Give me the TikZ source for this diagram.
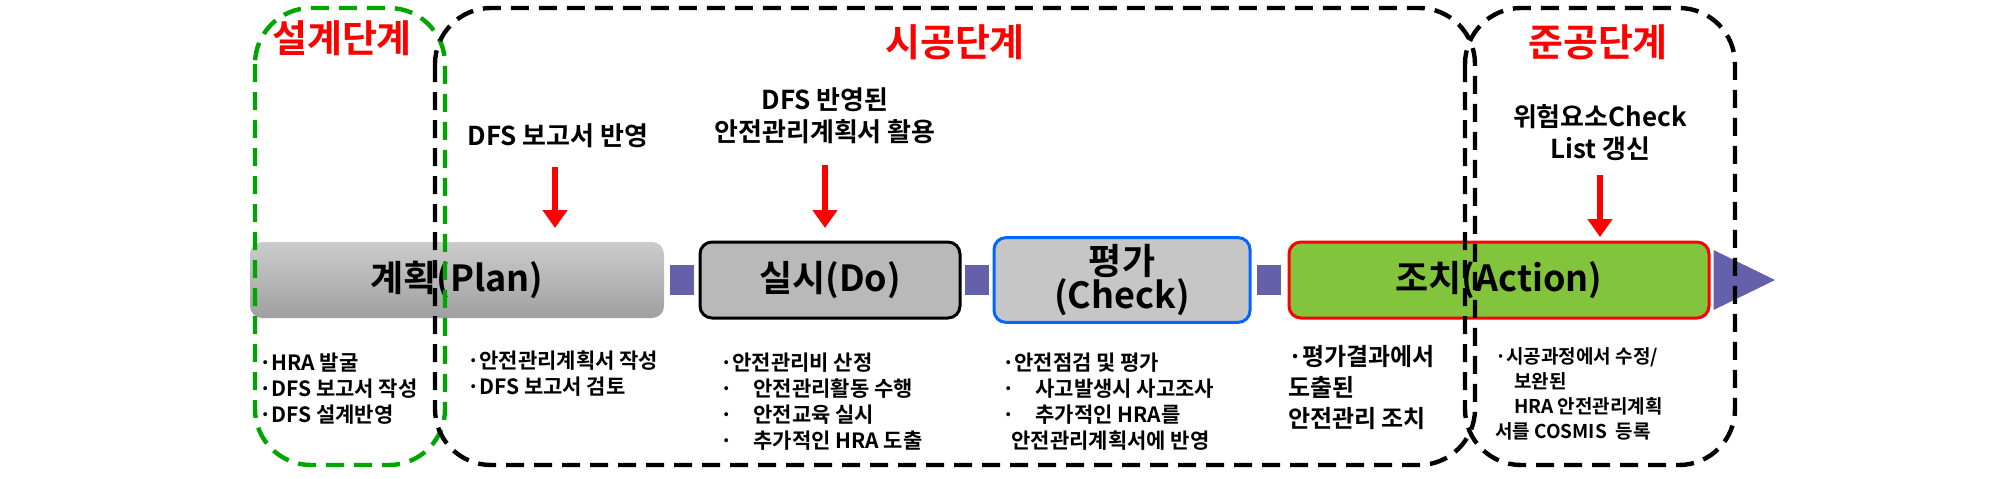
\documentclass[tikz,border=0pt]{standalone}
\usepackage{fontspec}
\usetikzlibrary{arrows.meta}
\setmainfont{Noto Sans CJK KR}
\newfontfamily\kb{Noto Sans CJK KR Bold}
\definecolor{actgreen}{RGB}{130,196,60}
\definecolor{conncol}{RGB}{100,96,170}
\begin{document}
\begin{tikzpicture}[x=0.5pt,y=-0.5pt,
  stage/.style={line width=2.2pt,dash pattern=on 9pt off 5pt,rounded corners=28pt},
  title/.style={text=red,font=\kb\fontsize{19}{21}\selectfont},
  lbl/.style={font=\kb\fontsize{13}{16}\selectfont,align=center},
  note/.style={font=\kb\fontsize{10.5}{13}\selectfont,align=left,anchor=north west},
  phase/.style={rounded corners=6pt,line width=1.5pt,minimum height=38pt,font=\kb\fontsize{18}{18}\selectfont,align=center},
  conn/.style={fill=conncol,draw=none,minimum width=12pt,minimum height=15pt,inner sep=0pt},
  redarrow/.style={draw=red,line width=3pt,-{Triangle[width=12pt,length=9pt]}}]
\useasboundingbox (0,0) rectangle (2008,478);
% phase boxes
\node[phase,draw=none,top color=gray!40,bottom color=gray!75,minimum width=207pt] (plan) at (457,280) {계획(Plan)};
\node[phase,draw=black,fill=gray!55,minimum width=130pt] (do) at (830,280) {실시(Do)};
\node[phase,draw=blue!60!cyan,fill=gray!45,minimum width=128pt,font=\kb\fontsize{18}{17}\selectfont] (check) at (1122,280) {평가\\(Check)};
\node[phase,draw=red,fill=actgreen,minimum width=210pt] (act) at (1499,280) {조치(Action)};
% connectors
\node[conn] (c1) at (682,280) {};
\node[conn] (c2) at (977,280) {};
\node[conn] (c3) at (1269,280) {};
\fill[conncol] (act.east) ++(3,-30) -- ++(0,60) -- (1775,280) -- cycle;
% stages
\draw[stage,draw=green!65!black] (255,8) rectangle (445,465);
\draw[stage] (435,8) rectangle (1475,465);
\draw[stage] (1465,8) rectangle (1735,465);
\node[title] (t1) at (342,38) {설계단계};
\node[title] (t2) at (955,42) {시공단계};
\node[title] (t3) at (1598,42) {준공단계};
% labels and arrows
\node[lbl] (l1) at (558,136) {DFS 보고서 반영};
\node[lbl] (l2) at (825,116) {DFS 반영된\\안전관리계획서 활용};
\node[lbl] (l3) at (1600,133) {위험요소Check\\List 갱신};
\coordinate (a1) at (555,228);
\coordinate (a2) at (825,228);
\coordinate (a3) at (1600,237);
\draw[redarrow] (555,167) -- (a1);
\draw[redarrow] (825,165) -- (a2);
\draw[redarrow] (1600,175) -- (a3);
% notes
\node[note] (n1) at (252,346) {·HRA 발굴\\·DFS 보고서 작성\\·DFS 설계반영};
\node[note] (n4) at (460,344) {·안전관리계획서 작성\\·DFS 보고서 검토};
\node[note] (n5) at (713,346) {·안전관리비 산정\\·\quad 안전관리활동 수행\\·\quad 안전교육 실시\\·\quad 추가적인 HRA 도출};
\node[note] (n6) at (995,346) {·안전점검 및 평가\\·\quad 사고발생시 사고조사\\·\quad 추가적인 HRA를\\\ \ 안전관리계획서에 반영};
\node[note,font=\kb\fontsize{12}{15.5}\selectfont] (n7) at (1281,338) {·평가결과에서\\도출된\\안전관리 조치};
\node[note,font=\kb\fontsize{9.5}{12.5}\selectfont] (n8) at (1488,340) {·시공과정에서 수정/\\\quad 보완된\\\quad HRA 안전관리계획\\서를 COSMIS\ \ 등록};
\end{tikzpicture}
\end{document}
